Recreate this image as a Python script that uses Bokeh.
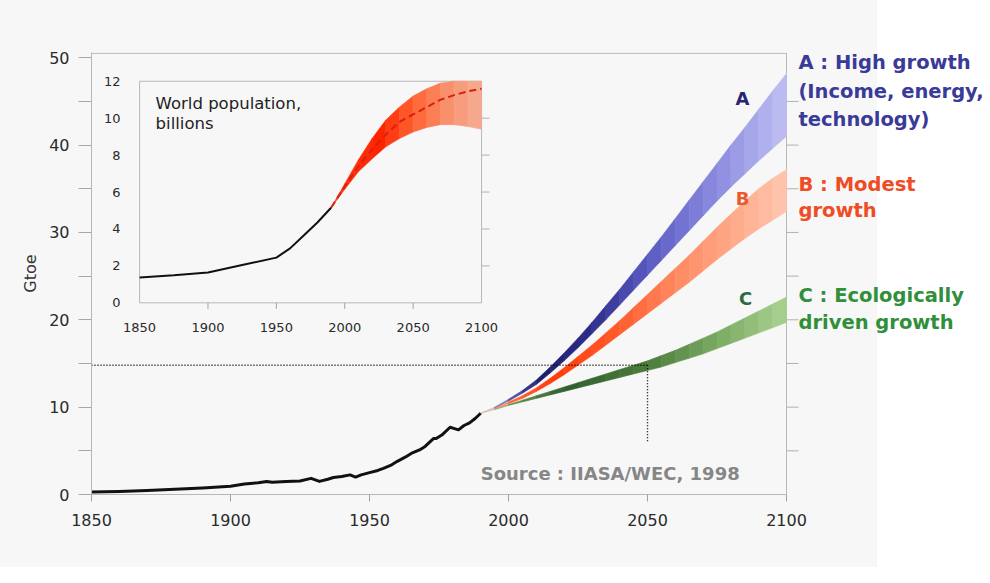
import numpy as np
from bokeh.plotting import figure
from bokeh.models import Range1d, FixedTicker
from bokeh.core.properties import value
from bokeh.embed import file_html
from bokeh.resources import INLINE

# ---------------- data ----------------
hist_years = [1850, 1860, 1870, 1880, 1890, 1900, 1905, 1910, 1913, 1915, 1920, 1925,
              1929, 1932, 1935, 1937, 1940, 1943, 1945, 1947, 1950, 1953, 1955, 1958,
              1960, 1963, 1965, 1968, 1970, 1973, 1974, 1976, 1979, 1980, 1982, 1984,
              1986, 1988, 1990]
hist_gtoe = [0.3, 0.35, 0.45, 0.6, 0.75, 0.95, 1.2, 1.35, 1.5, 1.4, 1.5, 1.55,
             1.85, 1.5, 1.75, 1.95, 2.05, 2.25, 2.0, 2.25, 2.5, 2.75, 3.0, 3.4,
             3.8, 4.3, 4.7, 5.1, 5.5, 6.4, 6.4, 6.8, 7.7, 7.6, 7.4, 7.9,
             8.2, 8.7, 9.3]

scen_years = [1990, 1995, 2000, 2005, 2010, 2015, 2020, 2025, 2030, 2035, 2040, 2045,
              2050, 2055, 2060, 2065, 2070, 2075, 2080, 2085, 2090, 2095, 2100]
a_high = [9.3, 10.0, 10.9, 11.9, 13.1, 14.6, 16.2, 17.9, 19.7, 21.6, 23.5, 25.5,
          27.5, 29.5, 31.6, 33.7, 35.8, 37.9, 40.0, 42.0, 44.1, 46.2, 48.2]
a_low = [9.3, 9.9, 10.7, 11.6, 12.6, 13.9, 15.3, 16.8, 18.4, 20.0, 21.7, 23.4,
         25.1, 26.8, 28.5, 30.2, 31.9, 33.6, 35.2, 36.7, 38.2, 39.6, 41.0]
b_high = [9.3, 9.9, 10.6, 11.3, 12.2, 13.3, 14.5, 15.8, 17.1, 18.5, 19.9, 21.4,
          22.9, 24.4, 25.9, 27.4, 29.0, 30.6, 32.1, 33.6, 35.0, 36.2, 37.2]
b_low = [9.3, 9.8, 10.4, 11.0, 11.8, 12.7, 13.7, 14.8, 15.9, 17.1, 18.3, 19.5,
         20.7, 21.9, 23.1, 24.3, 25.6, 26.9, 28.1, 29.3, 30.4, 31.4, 32.4]
c_high = [9.3, 9.8, 10.3, 10.8, 11.3, 11.8, 12.3, 12.8, 13.3, 13.8, 14.3, 14.8,
          15.3, 15.9, 16.5, 17.2, 17.9, 18.6, 19.4, 20.2, 21.0, 21.8, 22.6]
c_low = [9.3, 9.7, 10.2, 10.6, 11.0, 11.4, 11.8, 12.2, 12.6, 13.0, 13.4, 13.8,
         14.2, 14.6, 15.1, 15.6, 16.1, 16.7, 17.3, 17.9, 18.5, 19.1, 19.7]

pop_hist_years = [1850, 1875, 1900, 1925, 1950, 1960, 1970, 1980, 1990]
pop_hist = [1.37, 1.5, 1.64, 2.05, 2.45, 2.95, 3.65, 4.35, 5.15]
pop_proj_years = [1990, 2000, 2010, 2020, 2030, 2040, 2050, 2060, 2070, 2080, 2090, 2100]
pop_mid = [5.15, 6.3, 7.4, 8.3, 9.1, 9.8, 10.2, 10.6, 11.0, 11.25, 11.45, 11.6]
pop_high = [5.15, 6.45, 7.75, 8.9, 9.9, 10.6, 11.2, 11.6, 11.9, 12.0, 12.0, 12.0]
pop_low = [5.15, 6.15, 7.1, 7.8, 8.45, 8.9, 9.25, 9.5, 9.65, 9.65, 9.55, 9.4]

x_ticks = [1850, 1900, 1950, 2000, 2050, 2100]
y_ticks = [0, 10, 20, 30, 40, 50]
y_minor = [5, 15, 25, 35, 45]
inset_x_ticks = [1850, 1900, 1950, 2000, 2050, 2100]
inset_y_ticks = [0, 2, 4, 6, 8, 10, 12]

ref_year = 2050
ref_level = 14.8
ref_floor = 5.9

# ---------------- helpers ----------------
def hex2rgb(h):
    h = h.lstrip("#")
    return np.array([int(h[i:i + 2], 16) for i in (0, 2, 4)], dtype=float)

def color_at(x, stops):
    xs = [s[0] for s in stops]
    cols = np.array([hex2rgb(s[1]) for s in stops])
    rgb = [np.interp(x, xs, cols[:, k]) for k in range(3)]
    return "#%02x%02x%02x" % tuple(int(round(v)) for v in rgb)

def band(years, lo, hi, stops):
    xs, ys, cs = [], [], []
    for i in range(len(years) - 1):
        xs.append([years[i], years[i + 1], years[i + 1], years[i]])
        ys.append([lo[i], lo[i + 1], hi[i + 1], hi[i]])
        cs.append(color_at(0.5 * (years[i] + years[i + 1]), stops))
    return xs, ys, cs

FONT = "DejaVu Sans"
FRAME = "#b8b8b8"

# frame geometry: 1850..2100 spans 695 px starting at x=91; frame runs to canvas edge
PX_PER_YEAR = 695 / 250.0
X_END = 1850 + (990 - 91) / PX_PER_YEAR
Y_TOP = 50.6

# ---------------- main figure ----------------
p = figure(width=990, height=567,
           x_range=Range1d(1850, X_END), y_range=Range1d(0, Y_TOP),
           output_backend="svg", toolbar_location=None,
           min_border_left=91, min_border_right=0,
           min_border_top=52, min_border_bottom=73,
           border_fill_color=None, background_fill_color=None,
           outline_line_color=None,
           styles={"background": "linear-gradient(90deg, #f7f7f7 877px, #ffffff 877px)"})
p.grid.visible = False

xa = p.xaxis[0]
xa.ticker = FixedTicker(ticks=x_ticks)
xa.bounds = (x_ticks[0], x_ticks[-1])
xa.major_tick_out = 7
xa.major_tick_in = 0
xa.minor_tick_out = 0
xa.minor_tick_in = 0
xa.axis_line_color = FRAME
xa.major_tick_line_color = "#a0a0a0"
xa.major_label_text_font = FONT
xa.major_label_text_font_size = "16px"
xa.major_label_text_color = "#2a2a2a"
xa.major_label_standoff = 12

ya = p.yaxis[0]
ya.ticker = FixedTicker(ticks=y_ticks, minor_ticks=y_minor)
ya.major_tick_out = 13
ya.major_tick_in = 0
ya.minor_tick_out = 13
ya.minor_tick_in = 0
ya.axis_line_color = FRAME
ya.major_tick_line_color = "#a8a8a8"
ya.minor_tick_line_color = "#a8a8a8"
ya.major_label_text_font = FONT
ya.major_label_text_font_size = "16px"
ya.major_label_text_color = "#2a2a2a"
ya.major_label_standoff = 9
ya.axis_label = "Gtoe"
ya.axis_label_text_font = FONT
ya.axis_label_text_font_size = "16px"
ya.axis_label_text_font_style = "normal"
ya.axis_label_text_color = "#333333"
ya.axis_label_standoff = 6

# chart box (top and right edges) and right-hand outward ticks
p.quad(left=x_ticks[0], right=x_ticks[-1], bottom=y_ticks[0], top=50.5,
       fill_color=None, line_color=FRAME, line_width=1)
right_ticks = sorted(y_minor + y_ticks[1:-1])
p.ray(x=[x_ticks[-1]] * len(right_ticks), y=right_ticks, length=12,
      length_units="screen", angle=0, line_color="#b0b0b0", line_width=1)

# scenario bands
stops_a = [(1990, "#efe3cf"), (2000, "#5a5ab0"), (2012, "#1e1e6e"), (2030, "#2e2e8c"),
           (2050, "#5a5ac2"), (2075, "#8c8ce0"), (2100, "#c0c0f4")]
stops_b = [(1990, "#f6dcc4"), (2000, "#ff7040"), (2015, "#ff3a0a"), (2040, "#ff5c2c"),
           (2060, "#ff8a62"), (2080, "#ffa888"), (2100, "#ffc6b0")]
stops_c = [(1990, "#eceac4"), (2000, "#6a9a56"), (2020, "#2e5e2e"), (2050, "#4c7c3c"),
           (2075, "#7aaa62"), (2100, "#aad292")]

for lo, hi, st in [(c_low, c_high, stops_c), (b_low, b_high, stops_b), (a_low, a_high, stops_a)]:
    xs, ys, cs = band(scen_years, lo, hi, st)
    p.patches(xs, ys, fill_color=cs, line_color=cs, line_width=0.6)

# historical energy
p.line(hist_years, hist_gtoe, line_width=3, color="#111111", line_join="round")

# dotted reference lines
p.line([x_ticks[0], ref_year], [ref_level, ref_level], line_dash="1 2",
       line_width=1.4, color="#000000")
p.line([ref_year, ref_year], [ref_level, ref_floor], line_dash="1 2",
       line_width=1.4, color="#000000")

# scenario letters
p.text(x=[2084.2, 2084.2, 2085.3], y=[45.3, 33.9, 22.4], text=["A", "B", "C"],
       text_color=["#262672", "#e85a30", "#2e6a40"], text_font=value(FONT),
       text_font_size="18px", text_font_style="bold",
       text_align="center", text_baseline="middle")

# source
p.text(x=[1990], y=[2.4], text=["Source : IIASA/WEC, 1998"], text_font=value(FONT),
       text_font_size="18px", text_font_style="bold", text_color="#868686",
       text_align="left", text_baseline="middle")

# right side legend text
right_text = ["A : High growth", "(Income, energy,", "technology)",
              "B : Modest", "growth", "C : Ecologically", "driven growth"]
right_y = [49.42, 46.17, 42.97, 35.54, 32.46, 22.74, 19.66]
right_col = ["#3a3a98", "#3a3a98", "#3a3a98", "#f04c24", "#f04c24", "#30903a", "#30903a"]
p.text(x=[2104.3] * len(right_text), y=right_y, text=right_text, text_color=right_col,
       text_font=value(FONT), text_font_size="19.5px", text_font_style="bold",
       text_align="left", text_baseline="middle")

# ---------------- inset ----------------
ins = p.subplot(x_source=Range1d(inset_x_ticks[0], inset_x_ticks[-1]),
                y_source=Range1d(inset_y_ticks[0], inset_y_ticks[-1]),
                x_target=Range1d(1867.3, 1990.3),
                y_target=Range1d(21.94, 47.31))

ins.quad(left=inset_x_ticks[0], right=inset_x_ticks[-1],
         bottom=inset_y_ticks[0], top=inset_y_ticks[-1],
         fill_color=None, line_color=FRAME, line_width=1)

stops_p = [(1990, "#ff3a14"), (2025, "#ff2400"), (2050, "#ff6232"),
           (2075, "#f8906c"), (2100, "#f6ae94")]
pxs, pys, pcs = band(pop_proj_years, pop_low, pop_high, stops_p)
ins.patches(pxs, pys, fill_color=pcs, line_color=pcs, line_width=0.6)
ins.line(pop_proj_years, pop_mid, line_dash="7 4", line_width=2, color="#d8200e")
ins.line(pop_hist_years, pop_hist, line_width=2, color="#111111")

# inset ticks
ins.ray(x=[inset_x_ticks[-1]] * 5, y=inset_y_ticks[1:-1], length=8, length_units="screen",
        angle=0, line_color="#b0b0b0", line_width=1)
ins.ray(x=inset_x_ticks[1:-1], y=[inset_y_ticks[0]] * 4, length=6, length_units="screen",
        angle=-np.pi / 2, line_color="#a0a0a0", line_width=1)

ins.text(x=[inset_x_ticks[0]] * len(inset_y_ticks), y=inset_y_ticks,
         text=[str(v) for v in inset_y_ticks], x_offset=-19,
         text_align="right", text_baseline="middle", text_font=value(FONT),
         text_font_size="13px", text_color="#2a2a2a")
ins.text(x=inset_x_ticks, y=[inset_y_ticks[0]] * len(inset_x_ticks),
         text=[str(v) for v in inset_x_ticks], y_offset=25,
         text_align="center", text_baseline="middle", text_font=value(FONT),
         text_font_size="13px", text_color="#2a2a2a")
ins.text(x=[1861.7, 1861.7], y=[10.8, 9.72], text=["World population,", "billions"],
         text_align="left", text_baseline="middle", text_font=value(FONT),
         text_font_size="16.5px", text_color="#222222")

open("out.html", "w").write(file_html(p, INLINE))
